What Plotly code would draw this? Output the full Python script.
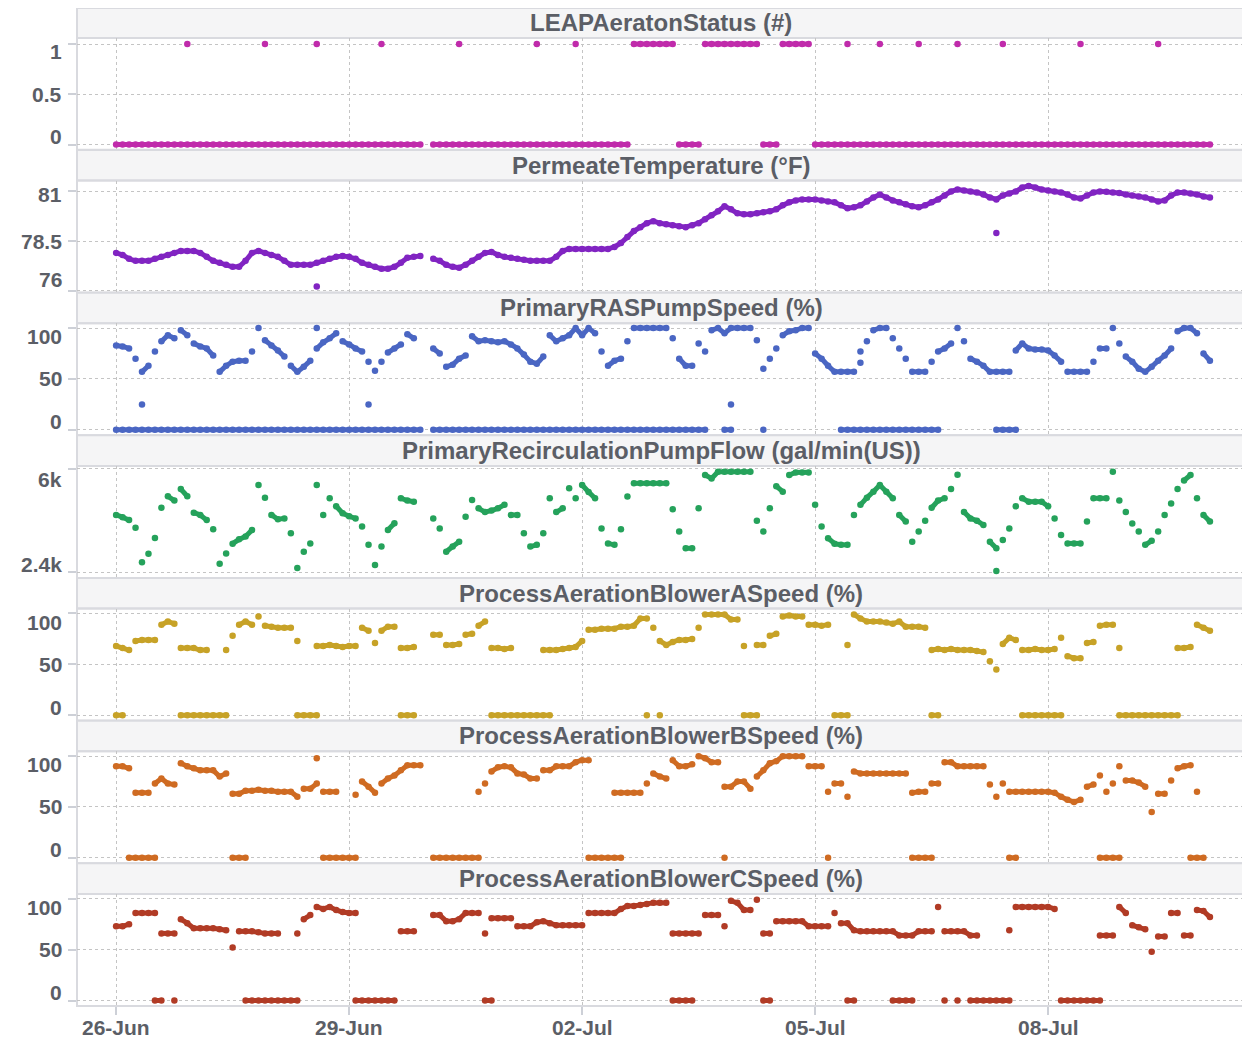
import pandas as pd
import plotly.graph_objects as go

N = None
START = "2023-06-26 00:00"
STEP_HOURS = 2

# ---------------- data (one value every 2 hours, 12 per row = 1 day) ----------------
leap_status = [
    0, 0, 0, 0, 0, 0, 0, 0, 0, 0, 0, 0,
    0, 0, 0, 0, 0, 0, 0, 0, 0, 0, 0, 0,
    0, 0, 0, 0, 0, 0, 0, 0, 0, 0, 0, 0,
    0, 0, 0, 0, 0, 0, 0, 0, 0, 0, 0, 0,
    N, 0, 0, 0, 0, 0, 0, 0, 0, 0, 0, 0,
    0, 0, 0, 0, 0, 0, 0, 0, 0, 0, 0, 0,
    0, 0, 0, 0, 0, 0, 0, 0, 1, 1, 1, 1,
    1, 1, 1, 0, 0, 0, 0, 1, 1, 1, 1, 1,
    1, 1, 1, 1, 0, 0, 0, 1, 1, 1, 1, 1,
    0, 0, 0, 0, 0, 0, 0, 0, 0, 0, 0, 0,
    0, 0, 0, 0, 0, 0, 0, 0, 0, 0, 0, 0,
    0, 0, 0, 0, 0, 0, 0, 0, 0, 0, 0, 0,
    0, 0, 0, 0, 0, 0, 0, 0, 0, 0, 0, 0,
    0, 0, 0, 0, 0, 0, 0, 0, 0, 0, 0, 0,
    0, 0]
leap_blip_idx = [11, 23, 31, 41, 53, 65, 71, 113, 118, 124, 130, 137, 149, 161]
leap_blip_val = [1, 1, 1, 1, 1, 1, 1, 1, 1, 1, 1, 1, 1, 1]

permeate_temp = [
    77.9, 77.8, 77.6, 77.5, 77.5, 77.5, 77.6, 77.7, 77.8, 77.9, 78.0, 78.0,
    78.0, 77.9, 77.7, 77.5, 77.4, 77.3, 77.2, 77.2, 77.5, 77.9, 78.0, 77.9,
    77.8, 77.7, 77.5, 77.3, 77.3, 77.3, 77.3, 77.4, 77.5, 77.6, 77.7, 77.75,
    77.7, 77.6, 77.4, 77.3, 77.2, 77.1, 77.1, 77.2, 77.4, 77.65, 77.7, 77.75,
    N, 77.6, 77.5, 77.3, 77.2, 77.15, 77.3, 77.5, 77.7, 77.9, 77.95, 77.8,
    77.7, 77.65, 77.6, 77.55, 77.5, 77.5, 77.5, 77.5, 77.7, 78.0, 78.1, 78.1,
    78.1, 78.1, 78.1, 78.1, 78.1, 78.2, 78.4, 78.7, 79.0, 79.2, 79.4, 79.5,
    79.4, 79.35, 79.3, 79.25, 79.2, 79.3, 79.4, 79.6, 79.8, 80.0, 80.25, 80.1,
    79.9, 79.85, 79.85, 79.9, 79.95, 80.0, 80.1, 80.3, 80.45, 80.55, 80.6, 80.6,
    80.6, 80.55, 80.5, 80.45, 80.3, 80.15, 80.2, 80.3, 80.5, 80.7, 80.85, 80.7,
    80.55, 80.45, 80.35, 80.25, 80.2, 80.3, 80.45, 80.6, 80.8, 81.0, 81.1, 81.05,
    81.0, 80.95, 80.85, 80.7, 80.6, 80.8, 80.9, 81.0, 81.2, 81.28, 81.2, 81.1,
    81.05, 81.0, 80.95, 80.85, 80.7, 80.65, 80.8, 80.95, 81.0, 80.98, 80.95, 80.92,
    80.85, 80.8, 80.75, 80.7, 80.6, 80.5, 80.55, 80.8, 80.95, 80.95, 80.9, 80.85,
    80.75, 80.7]
temp_extra_idx = [31, 136]
temp_extra_val = [76.2, 78.9]

ras_speed = [
    83, 82, 80, 70, 57, 63, 77, 87, 93, 90, 98, 93,
    85, 82, 80, 73, 57, 63, 67, 68, 68, 77, 100, 88,
    83, 78, 72, 63, 57, 62, 68, 80, 86, 90, 95, 87,
    84, 80, 77, 67, 58, 67, 76, 80, 84, 94, 90, N,
    N, 80, 75, 62, 64, 70, 73, 92, 87, 88, 87, 86,
    87, 84, 80, 74, 67, 65, 72, 93, 87, 90, 93, 100,
    93, 100, 95, 77, 63, 68, 70, 87, 100, 100, 100, 100,
    100, 100, 90, 70, 63, 63, 85, 77, 98, 100, 95, 100,
    100, 100, 100, 88, 60, 70, 80, 93, 97, 98, 100, 100,
    75, 70, 63, 57, 57, 57, 57, 77, 87, 98, 100, 100,
    90, 80, 70, 57, 57, 57, 67, 77, 80, 85, 100, 87,
    70, 67, 63, 57, 57, 57, 57, 78, 85, 80, 79, 79,
    78, 73, 67, 57, 57, 57, 57, 67, 80, 80, 100, 85,
    72, 67, 60, 57, 62, 68, 73, 80, 97, 100, 100, 95,
    75, 68]
ras_speed_low = [
    0, 0, 0, 0, 0, 0, 0, 0, 0, 0, 0, 0,
    0, 0, 0, 0, 0, 0, 0, 0, 0, 0, 0, 0,
    0, 0, 0, 0, 0, 0, 0, 0, 0, 0, 0, 0,
    0, 0, 0, 0, 0, 0, 0, 0, 0, 0, 0, 0,
    N, 0, 0, 0, 0, 0, 0, 0, 0, 0, 0, 0,
    0, 0, 0, 0, 0, 0, 0, 0, 0, 0, 0, 0,
    0, 0, 0, 0, 0, 0, 0, 0, 0, 0, 0, 0,
    0, 0, 0, 0, 0, 0, 0, 0, N, N, 0, 0,
    N, N, N, N, 0, N, N, N, N, N, N, N,
    N, N, N, N, 0, 0, 0, 0, 0, 0, 0, 0,
    0, 0, 0, 0, 0, 0, 0, 0, N, N, N, N,
    N, N, N, N, 0, 0, 0, 0, N, N, N, N,
    N, N, N, N, N, N, N, N, N, N, N, N,
    N, N, N, N, N, N, N, N, N, N, N, N,
    N, N]
ras_extra_idx = [4, 31, 39, 95, 115]
ras_extra_val = [25, 100, 25, 25, 66]

recirc_flow = [
    4400, 4320, 4220, 3950, 2750, 3050, 3600, 4650, 5050, 4900, 5300, 5050,
    4480, 4400, 4220, 3900, 2700, 3060, 3400, 3550, 3650, 3880, 5440, 5000,
    4400, 4250, 4280, 3760, 2550, 3120, 3410, 5440, 4400, 4980, 4700, 4460,
    4350, 4280, 4000, 3360, 2660, 3300, 3880, 4110, 4980, 4900, 4860, N,
    N, 4280, 3930, 3120, 3300, 3470, 4340, 4920, 4630, 4500, 4550, 4630,
    4750, 4400, 4400, 3760, 3300, 3360, 3760, 4980, 4500, 4630, 5330, 4980,
    5440, 5200, 4980, 3930, 3410, 3360, 3900, 5040, 5500, 5500, 5500, 5500,
    5500, 5500, 4600, 3820, 3240, 3240, 4630, 5790, 5670, 5900, 5900, 5900,
    5900, 5900, 5900, 4200, 3820, 4630, 5400, 5210, 5790, 5880, 5880, 5880,
    4750, 4000, 3590, 3400, 3360, 3360, 4400, 4750, 5000, 5210, 5440, 5210,
    4980, 4400, 4170, 3470, 3820, 4200, 4650, 4900, 4980, 5300, 5800, 4500,
    4280, 4200, 4050, 3470, 3240, 3530, 3930, 4700, 4980, 4860, 4860, 4860,
    4700, 4280, 3700, 3410, 3410, 3410, 4170, 4980, 4980, 4980, 5900, 4900,
    4500, 4100, 3820, 3360, 3500, 3820, 4400, 4800, 5300, 5600, 5790, 4980,
    4400, 4170]
flow_extra_idx = [136]
flow_extra_val = [2450]

blower_a = [
    68, 66, 64, 73, 74, 74, 74, 89, 92, 90, 66, 66,
    66, 64, 64, N, N, 64, 78, 89, 92, 89, 97, 88,
    87, 86, 86, 86, 73, N, N, 68, 68, 69, 68, 67,
    68, 68, 86, 83, 71, 83, 87, 87, 66, 66, 67, N,
    N, 79, 79, 69, 69, 70, 79, 80, 88, 92, 66, 66,
    65, 66, N, N, N, N, 64, 64, 64, 65, 66, 67,
    73, 84, 84, 85, 85, 85, 87, 87, 88, 95, 95, 86,
    73, 69, 72, 74, 74, 75, 86, 99, 99, 99, 99, 94,
    94, 68, N, 69, 69, 78, 80, 97, 98, 97, 97, 89,
    89, 88, 89, N, N, 69, 99, 95, 92, 92, 92, 91,
    90, 92, 87, 87, 87, 86, 64, 65, 64, 65, 64, 64,
    64, 63, 62, 53, 45, 70, 76, 74, 64, 64, 65, 64,
    64, 65, 76, 58, 56, 56, 71, 72, 88, 89, 89, 66,
    N, N, N, N, N, N, N, N, 66, 66, 67, 89,
    86, 83]
blower_a_off = [
    0, 0, N, N, N, N, N, N, N, N, 0, 0,
    0, 0, 0, 0, 0, 0, N, N, N, N, N, N,
    N, N, N, N, 0, 0, 0, 0, N, N, N, N,
    N, N, N, N, N, N, N, N, 0, 0, 0, N,
    N, N, N, N, N, N, N, N, N, N, 0, 0,
    0, 0, 0, 0, 0, 0, 0, 0, N, N, N, N,
    N, N, N, N, N, N, N, N, N, N, 0, N,
    0, N, N, N, N, N, N, N, N, N, N, N,
    N, 0, 0, 0, N, N, N, N, N, N, N, N,
    N, N, N, 0, 0, 0, N, N, N, N, N, N,
    N, N, N, N, N, N, 0, 0, N, N, N, N,
    N, N, N, N, N, N, N, N, 0, 0, 0, 0,
    0, 0, 0, N, N, N, N, N, N, N, N, 0,
    0, 0, 0, 0, 0, 0, 0, 0, 0, N, N, N,
    N, N]

blower_b = [
    90, 90, 88, 64, 64, 64, 73, 78, 73, 72, 93, 90,
    88, 86, 86, 86, 80, 83, 63, 63, 66, 66, 67, 66,
    66, 65, 65, 65, 60, 68, 68, 73, 65, 65, 65, N,
    N, 62, 75, 70, 64, 73, 78, 81, 86, 91, 91, 91,
    N, N, N, N, N, N, N, N, 65, 73, 85, 89,
    90, 89, 83, 82, 78, 78, 86, 86, 90, 90, 90, 94,
    96, 96, N, N, N, 64, 64, 64, 64, 64, 73, 83,
    80, 78, 96, 90, 90, 92, 100, 98, 94, 94, 70, 70,
    75, 75, 68, 80, 86, 93, 95, 100, 100, 100, 100, 90,
    90, 90, 65, 73, 73, 60, 85, 83, 83, 83, 83, 83,
    83, 83, 83, 64, 65, 65, 73, 73, 94, 94, 90, 90,
    90, 90, 90, 72, 60, 73, 65, 65, 65, 65, 65, 65,
    65, 64, 60, 57, 55, 57, 70, 72, 81, 65, 73, 90,
    76, 76, 74, 70, 45, 63, 63, 76, 88, 90, 91, 65,
    N, N]
blower_b_off = [
    N, N, 0, 0, 0, 0, 0, N, N, N, N, N,
    N, N, N, N, N, N, 0, 0, 0, N, N, N,
    N, N, N, N, N, N, N, N, 0, 0, 0, 0,
    0, 0, N, N, N, N, N, N, N, N, N, N,
    N, 0, 0, 0, 0, 0, 0, 0, 0, N, N, N,
    N, N, N, N, N, N, N, N, N, N, N, N,
    N, 0, 0, 0, 0, 0, 0, N, N, N, N, N,
    N, N, N, N, N, N, N, N, N, N, 0, N,
    N, N, N, N, N, N, N, N, N, N, N, N,
    N, N, 0, N, N, N, N, N, N, N, N, N,
    N, N, N, 0, 0, 0, 0, N, N, N, N, N,
    N, N, N, N, N, N, 0, 0, N, N, N, N,
    N, N, N, N, N, N, N, N, 0, 0, 0, 0,
    N, N, N, N, N, N, N, N, N, N, 0, 0,
    0, N]
blower_b_extra_idx = [31]
blower_b_extra_val = [98]

blower_c = [
    73, 73, 75, 86, 86, 86, 86, 66, 66, 66, 80, 76,
    71, 71, 71, 71, 70, 69, 52, 68, 68, 68, 67, 66,
    66, 66, N, N, 66, 80, 84, 92, 90, 92, 89, 87,
    86, 86, N, N, N, N, N, N, 68, 68, 68, N,
    N, 84, 84, 78, 78, 80, 86, 86, 86, 66, 81, 81,
    81, 81, 73, 73, 73, 77, 78, 76, 74, 74, 74, 74,
    74, 86, 86, 86, 86, 86, 90, 93, 93, 94, 95, 96,
    96, 96, 66, 66, 66, 66, 66, 84, 84, 84, 73, 98,
    96, 89, 89, 99, 66, 66, 78, 78, 78, 78, 78, 73,
    73, 73, 73, 86, 76, 76, 69, 68, 68, 68, 68, 68,
    68, 64, 64, 64, 68, 68, 68, 92, 68, 68, 68, 68,
    64, 64, N, N, N, N, 69, 92, 92, 92, 92, 92,
    92, 90, N, N, N, N, N, N, 64, 64, 64, 92,
    86, 74, 72, 70, 48, 63, 63, 86, 86, 64, 64, 89,
    88, 82]
blower_c_off = [
    N, N, N, N, N, N, 0, 0, N, 0, N, N,
    N, N, N, N, N, N, N, N, 0, 0, 0, 0,
    0, 0, 0, 0, 0, N, N, N, N, N, N, N,
    N, 0, 0, 0, 0, 0, 0, 0, N, N, N, N,
    N, N, N, N, N, N, N, N, N, 0, 0, N,
    N, N, N, N, N, N, N, N, N, N, N, N,
    N, N, N, N, N, N, N, N, N, N, N, N,
    N, N, 0, 0, 0, 0, N, N, N, N, N, N,
    N, N, N, N, 0, 0, N, N, N, N, N, N,
    N, N, N, N, N, 0, 0, N, N, N, N, N,
    0, 0, 0, 0, N, N, N, N, 0, N, 0, N,
    0, 0, 0, 0, 0, 0, 0, N, N, N, N, N,
    N, N, 0, 0, 0, 0, 0, 0, 0, N, N, N,
    N, N, N, N, N, N, N, N, N, N, N, N,
    N, N]

panel_titles = [
    "LEAPAeratonStatus (#)",
    "PermeateTemperature (°F)",
    "PrimaryRASPumpSpeed (%)",
    "PrimaryRecirculationPumpFlow (gal/min(US))",
    "ProcessAerationBlowerASpeed (%)",
    "ProcessAerationBlowerBSpeed (%)",
    "ProcessAerationBlowerCSpeed (%)",
]
y_tickvals = [[0, 0.5, 1], [76, 78.5, 81], [0, 50, 100], [2400, 6000],
              [0, 50, 100], [0, 50, 100], [0, 50, 100]]
y_ticktext = [["0", "0.5", "1"], ["76", "78.5", "81"], ["0", "50", "100"], ["2.4k", "6k"],
              ["0", "50", "100"], ["0", "50", "100"], ["0", "50", "100"]]
x_tickvals = ["2023-06-26", "2023-06-29", "2023-07-02", "2023-07-05", "2023-07-08"]
x_ticktext = ["26-Jun", "29-Jun", "02-Jul", "05-Jul", "08-Jul"]

# ---------------- style / layout ----------------
colors = ["#c02bab", "#8124c2", "#4a66c3", "#25a25b", "#c7a227", "#cf6b22", "#b13b25"]
y_ranges = [[-0.053, 1.062], [75.9, 81.55], [-5.3, 104.8], [2210, 6105],
            [-5.3, 104.8], [-5.3, 104.8], [-5.3, 104.8]]
# consecutive readings closer than this are drawn as one continuous band
band_gap = [0.3, 0.45, 7, 260, 7, 7, 7]
X_RANGE = ["2023-06-25 11:55", "2023-07-10 12:50"]

OFF = 8                      # default page (body) margin of the html page
W, H = 1242, 1030            # figure size so that it fits the 1250x1038 window
PLOT_LEFT, PLOT_RIGHT = 76.5, 1245.0    # window pixels
ML = PLOT_LEFT - OFF
MR = W - (PLOT_RIGHT - OFF)
MT = 0
MB = H - (1006.2 - OFF)
PERIOD, STRIP_H, PLOT_H = 142.7, 30.6, 112.0
TEXT = "#5b5e66"
GRID = "#c4c4c4"
BORDER = "#d9dadf"
TICKC = "#cdd0d7"
FONT = "Liberation Sans, Arial, Helvetica, sans-serif"
MSIZE = 6.5
LWIDTH = 5
LABEL_HALF = 13.5


def fy(win_px):
    v = ((H - MB) - (win_px - OFF)) / (H - MT - MB)
    return min(1.0, max(0.0, v))


def band_segments(xs, ys, thr):
    sx, sy = [], []
    for a in range(len(ys) - 1):
        if ys[a] is not None and ys[a + 1] is not None and abs(ys[a + 1] - ys[a]) <= thr:
            sx += [xs[a], xs[a + 1], None]
            sy += [ys[a], ys[a + 1], None]
    return sx, sy


times = list(pd.date_range(START, periods=len(leap_status), freq=f"{STEP_HOURS}h"))

series = [
    [(leap_status, None), (leap_blip_val, leap_blip_idx)],
    [(permeate_temp, None), (temp_extra_val, temp_extra_idx)],
    [(ras_speed, None), (ras_speed_low, None), (ras_extra_val, ras_extra_idx)],
    [(recirc_flow, None), (flow_extra_val, flow_extra_idx)],
    [(blower_a, None), (blower_a_off, None)],
    [(blower_b, None), (blower_b_off, None), (blower_b_extra_val, blower_b_extra_idx)],
    [(blower_c, None), (blower_c_off, None)],
]

fig = go.Figure()
layout = dict(
    template="none",
    width=W, height=H,
    margin=dict(l=ML, r=MR, t=MT, b=MB, autoexpand=False),
    paper_bgcolor="white", plot_bgcolor="rgba(0,0,0,0)",
    showlegend=False,
    font=dict(family=FONT, color=TEXT),
)
shapes, annotations = [], []
label_font = dict(size=21, family=FONT, color=TEXT, weight="bold")

for i in range(7):
    sfx = "" if i == 0 else str(i + 1)
    xa, ya = "x" + sfx, "y" + sfx
    strip_top = 7.3 + PERIOD * i
    plot_top = strip_top + STRIP_H
    plot_bot = plot_top + PLOT_H

    for vals, idx in series[i]:
        if idx is None:
            lx, ly = band_segments(times, vals, band_gap[i])
            if lx:
                fig.add_trace(go.Scatter(
                    x=lx, y=ly, mode="lines", xaxis=xa, yaxis=ya,
                    line=dict(color=colors[i], width=LWIDTH), hoverinfo="skip",
                ))
            xs = times
        else:
            xs = [times[k] for k in idx]
        fig.add_trace(go.Scatter(
            x=xs, y=vals, mode="markers", xaxis=xa, yaxis=ya,
            marker=dict(size=MSIZE, color=colors[i], line=dict(width=0)),
            hoverinfo="x+y",
        ))

    bottom = (i == 6)
    layout["xaxis" + sfx] = dict(
        type="date", range=X_RANGE, domain=[0, 1], anchor=ya,
        matches=None if i == 0 else "x", automargin=False,
        tickmode="array", tickvals=x_tickvals, ticktext=x_ticktext,
        showgrid=True, gridcolor=GRID, griddash="dot", gridwidth=1,
        showticklabels=False, ticks="outside" if bottom else "",
        ticklen=8, tickwidth=1.5, tickcolor=TICKC,
        zeroline=False, showline=False,
    )
    r0, r1 = y_ranges[i]
    layout["yaxis" + sfx] = dict(
        range=[r0, r1], domain=[fy(plot_bot), fy(plot_top)], anchor=xa,
        automargin=False,
        tickmode="array", tickvals=y_tickvals[i], ticktext=y_ticktext[i],
        showticklabels=False,
        showgrid=True, gridcolor=GRID, griddash="dot", gridwidth=1,
        ticks="outside", ticklen=8, tickwidth=1.5, tickcolor=TICKC,
        zeroline=False, showline=False, fixedrange=True,
    )
    # y tick labels, kept inside the vertical extent of their panel
    ppu = PLOT_H / (r1 - r0)
    for v, txt in zip(y_tickvals[i], y_ticktext[i]):
        off_top = (r1 - v) * ppu
        off_bot = (v - r0) * ppu
        shift = 0.0
        if off_top < LABEL_HALF:
            shift = -(LABEL_HALF - off_top)
        elif off_bot < LABEL_HALF:
            shift = LABEL_HALF - off_bot
        annotations.append(dict(
            text=txt, xref="paper", yref=ya, x=0, y=v, xanchor="right",
            yanchor="middle", xshift=-13, yshift=shift, showarrow=False,
            font=label_font,
        ))
    if bottom:
        for d, txt in zip(x_tickvals, x_ticktext):
            annotations.append(dict(
                text=txt, xref=xa, yref="paper", x=d, y=0, xanchor="center",
                yanchor="top", yshift=-8, showarrow=False, font=label_font,
            ))
    shapes.append(dict(type="rect", xref="paper", yref="paper", layer="below",
                       x0=0, x1=1, y0=fy(plot_top), y1=fy(strip_top),
                       fillcolor="#f5f5f6", line=dict(color=BORDER, width=2)))
    shapes.append(dict(type="rect", xref="paper", yref="paper", layer="below",
                       x0=0, x1=1, y0=fy(plot_bot), y1=fy(plot_top),
                       fillcolor="rgba(0,0,0,0)", line=dict(color=BORDER, width=2)))
    annotations.append(dict(
        text=panel_titles[i], xref="paper", yref="paper", x=0.5,
        y=fy((strip_top + plot_top) / 2), xanchor="center", yanchor="middle",
        showarrow=False, font=dict(size=24, family=FONT, color=TEXT, weight="bold"),
    ))

layout["shapes"] = shapes
layout["annotations"] = annotations
fig.update_layout(**layout)
fig.write_html("out.html")
